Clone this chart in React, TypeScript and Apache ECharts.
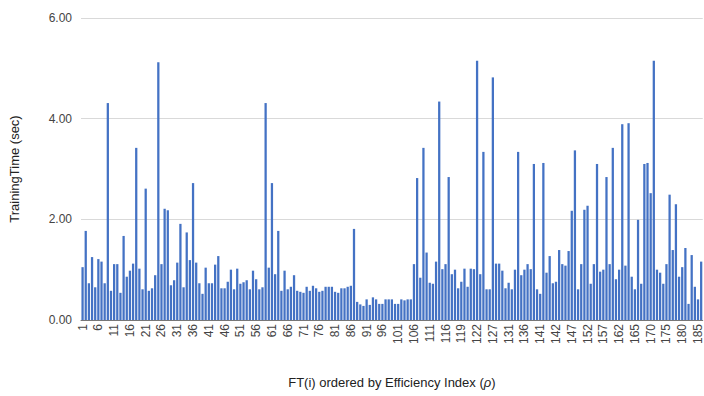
import React, { useEffect, useRef } from "react";
import * as echarts from "echarts";

// FT(i) labels in efficiency order (some indices repeat after 116)
const categories: string[] = [
  "1","2","3","4","5","6","7","8","9","10",
  "11","12","13","14","15","16","17","18","19","20",
  "21","22","23","24","25","26","27","28","29","30",
  "31","32","33","34","35","36","37","38","39","40",
  "41","42","43","44","45","46","47","48","49","50",
  "51","52","53","54","55","56","57","58","59","60",
  "61","62","63","64","65","66","67","68","69","70",
  "71","72","73","74","75","76","77","78","79","80",
  "81","82","83","84","85","86","87","88","89","90",
  "91","92","93","94","95","96","97","98","99","100",
  "101","102","103","104","105","106","107","108","109","110",
  "111","112","113","114","115","116",
  "117","117","118","118","119",
  "120","120","121","121","122",
  "123","124","125","126","127",
  "128","129","130","130","131",
  "132","133","134","135","136",
  "137","138","139","140","141",
  "141","141","142","142","142",
  "143","144","145","146","147",
  "148","149","150","151","152",
  "153","154","155","156","157",
  "158","159","160","161","162",
  "163","163","164","164","165",
  "166","167","168","169","170",
  "171","172","173","174","175",
  "176","177","178","179","180",
  "181","182","183","184","185",
  "186",
];

// Training time in seconds for each FT(i)
const trainingTime: number[] = [
  1.05, 1.77, 0.73, 1.25, 0.65, 1.21, 1.16, 0.73, 4.31, 0.58,
  1.11, 1.11, 0.54, 1.67, 0.86, 0.98, 1.12, 3.42, 1.02, 0.61,
  2.61, 0.58, 0.63, 0.89, 5.12, 1.11, 2.21, 2.18, 0.69, 0.79,
  1.14, 1.91, 0.65, 1.74, 1.19, 2.72, 1.14, 0.73, 0.52, 1.04,
  0.73, 0.73, 1.10, 1.27, 0.63, 0.63, 0.76, 1.0, 0.61, 1.02,
  0.72, 0.75, 0.79, 0.61, 0.98, 0.81, 0.61, 0.65, 4.31, 1.04,
  2.72, 0.91, 1.77, 0.58, 0.98, 0.61, 0.66, 0.89, 0.58, 0.56,
  0.54, 0.66, 0.58, 0.68, 0.63, 0.56, 0.58, 0.66, 0.66, 0.66,
  0.56, 0.54, 0.63, 0.63, 0.66, 0.68, 1.81, 0.36, 0.31, 0.28,
  0.41, 0.30, 0.45, 0.41, 0.32, 0.32, 0.41, 0.41, 0.41, 0.32,
  0.32, 0.41, 0.39, 0.41, 0.41, 1.11, 2.82, 0.84, 3.42, 1.34,
  0.74, 0.72, 1.16, 4.34, 1.01, 1.11, 2.84, 0.91, 1.0, 0.63,
  0.76, 1.02, 0.66, 1.02, 1.01, 5.15, 0.91, 3.34, 0.61, 0.61,
  4.82, 1.12, 1.12, 0.98, 0.63, 0.74, 0.61, 1.0, 3.34, 0.89,
  1.0, 1.11, 1.01, 3.10, 0.61, 0.52, 3.12, 0.94, 1.27, 0.73,
  0.76, 1.39, 1.11, 1.08, 1.37, 2.17, 3.37, 0.61, 1.11, 2.19,
  2.27, 0.72, 1.11, 3.10, 0.96, 1.0, 2.84, 1.11, 3.42, 0.81,
  1.0, 3.89, 1.08, 3.91, 0.86, 0.61, 1.99, 0.72, 3.10, 3.12,
  2.52, 5.15, 1.0, 0.94, 0.72, 1.11, 2.49, 1.39, 2.30, 0.86,
  1.05, 1.43, 0.32, 1.29, 0.66, 0.41, 1.16,
];

const FONT = "'Liberation Sans', Arial, sans-serif";

export default function App() {
  const ref = useRef<HTMLDivElement>(null);

  useEffect(() => {
    if (!ref.current) return;
    const chart = echarts.init(ref.current, undefined, { renderer: "svg" });
    chart.setOption({
      animation: false,
      backgroundColor: "#ffffff",
      textStyle: { fontFamily: FONT },
      grid: { left: 80.7, top: 18, right: -1, height: 302, containLabel: false },
      xAxis: {
        type: "category",
        data: categories,
        name: "FT(i) ordered by Efficiency Index ({i|ρ})",
        nameLocation: "middle",
        nameGap: 56,
        nameTextStyle: {
          fontSize: 13,
          color: "#222",
          fontFamily: FONT,
          rich: { i: { fontStyle: "italic", fontSize: 13, color: "#222", fontFamily: FONT } },
        },
        axisTick: { show: false },
        axisLine: { lineStyle: { color: "#777", width: 1 } },
        axisLabel: {
          interval: 4,
          rotate: 90,
          fontSize: 12,
          color: "#444",
          margin: 4,
          fontFamily: FONT,
        },
      },
      yAxis: {
        type: "value",
        min: 0,
        max: 6,
        interval: 2,
        name: "TrainingTime (sec)",
        nameLocation: "middle",
        nameGap: 60,
        nameTextStyle: { fontSize: 13, color: "#222", fontFamily: FONT },
        axisLine: { show: false },
        axisTick: { show: false },
        splitLine: { lineStyle: { color: "#d9d9d9", width: 1 } },
        axisLabel: {
          fontSize: 12,
          color: "#444",
          margin: 9,
          fontFamily: FONT,
          formatter: (v: number) => v.toFixed(2),
        },
      },
      series: [
        {
          type: "bar",
          data: trainingTime,
          barCategoryGap: "28%",
          itemStyle: { color: "#4472c4" },
        },
      ],
    });
    return () => chart.dispose();
  }, []);

  return (
    <div
      ref={ref}
      style={{ position: "fixed", left: 0, top: 0, width: 704, height: 396 }}
    />
  );
}
